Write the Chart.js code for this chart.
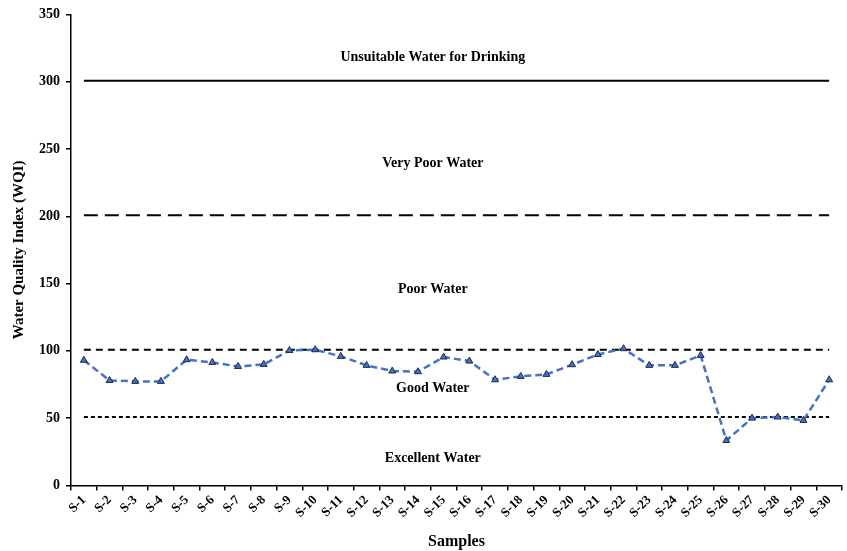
<!DOCTYPE html>
<html>
<head>
<meta charset="utf-8">
<script src="https://cdn.jsdelivr.net/npm/chart.js@4.4.0/dist/chart.umd.min.js"></script>
<style>
  html, body { margin: 0; padding: 0; background: #fff; }
  #wrap { width: 847px; height: 551px; }
</style>
</head>
<body>
<div id="wrap"><canvas id="myChart" width="847" height="551"></canvas></div>
<script>
const samples = [];
for (let i = 1; i <= 30; i++) samples.push('S-' + i);

const wqiValues = [93, 78, 77.3, 77.3, 93.4, 91.4, 88.4, 89.9, 100.3, 100.8,
    95.9, 89.2, 85, 84.5, 95.4, 92.4, 78.5, 81, 82.5, 89.7,
    97.3, 101.6, 89.2, 89.2, 96.6, 33.4, 50, 50.8, 48.3, 78.5];

const limitValues = [300.7, 200.7, 100.8, 50.8];
const zoneNames = ['Unsuitable Water for Drinking', 'Very Poor Water', 'Poor Water', 'Good Water', 'Excellent Water'];
const zoneTextLevels = [318, 239, 145.5, 72, 20];
const yTicks = [0, 50, 100, 150, 200, 250, 300, 350];

const serif = "'Liberation Serif', 'Times New Roman', serif";
const limitDash = [[], [14, 7], [7, 5], [4, 3]];

function flat(v) {
    return samples.map(() => v);
}

// zone captions drawn from the scales
const zoneText = {
    id: 'zoneText',
    afterDatasetsDraw(chart) {
        const c = chart.ctx;
        const x = chart.scales.x;
        const y = chart.scales.y;
        const cx = (x.getPixelForValue(13) + x.getPixelForValue(14)) / 2 + 2;
        c.save();
        c.fillStyle = '#000';
        c.font = 'bold 14px ' + serif;
        c.textAlign = 'center';
        c.textBaseline = 'middle';
        zoneNames.forEach((name, i) => {
            c.fillText(name, cx, y.getPixelForValue(zoneTextLevels[i]));
        });
        c.restore();
    }
};

const datasets = [{
    label: 'WQI',
    data: wqiValues,
    borderColor: '#4472C4',
    backgroundColor: '#4472C4',
    borderWidth: 2.5,
    borderDash: [7, 4],
    pointStyle: 'triangle',
    pointRadius: 4,
    pointBorderColor: '#1f2a44',
    pointBorderWidth: 1,
    pointBackgroundColor: '#4472C4',
    tension: 0,
    order: 0
}];
limitValues.forEach((v, i) => {
    datasets.push({
        label: 'limit ' + v,
        data: flat(v),
        borderColor: '#000',
        borderWidth: 2,
        borderDash: limitDash[i],
        pointRadius: 0,
        order: 1
    });
});

const ctx = document.getElementById('myChart').getContext('2d');
const myChart = new Chart(ctx, {
    type: 'line',
    data: { labels: samples, datasets: datasets },
    plugins: [zoneText],
    options: {
        responsive: false,
        animation: false,
        layout: { padding: { top: 8, right: 4, left: 3, bottom: 0 } },
        plugins: {
            legend: { display: false },
            tooltip: { enabled: false }
        },
        scales: {
            x: {
                offset: true,
                grid: { display: true, offset: true, drawOnChartArea: false, color: '#000', tickLength: 5, lineWidth: 1.5 },
                border: { display: true, color: '#000', width: 1.5 },
                ticks: {
                    color: '#000',
                    font: { family: serif, size: 13, weight: 'bold' },
                    minRotation: 45,
                    maxRotation: 45,
                    autoSkip: false,
                    padding: 2
                },
                title: {
                    display: true,
                    text: 'Samples',
                    color: '#000',
                    font: { family: serif, size: 16, weight: 'bold' },
                    padding: { top: 9, bottom: 0 }
                }
            },
            y: {
                min: 0,
                max: 350,
                afterBuildTicks(axis) {
                    axis.ticks = yTicks.map(v => ({ value: v }));
                },
                grid: { display: true, drawOnChartArea: false, color: '#000', tickLength: 5, lineWidth: 1.5 },
                border: { display: true, color: '#000', width: 1.5 },
                ticks: {
                    color: '#000',
                    font: { family: serif, size: 14, weight: 'bold' },
                    padding: 6
                },
                title: {
                    display: true,
                    text: 'Water Quality Index (WQI)',
                    color: '#000',
                    font: { family: serif, size: 15, weight: 'bold' },
                    padding: { top: 7, bottom: 5 }
                }
            }
        }
    }
});
</script>
</body>
</html>
